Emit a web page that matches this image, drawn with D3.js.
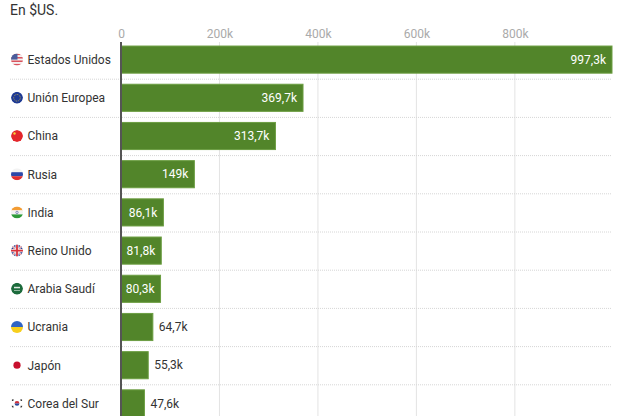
<!DOCTYPE html>
<html>
<head>
<meta charset="utf-8">
<script src="https://cdn.jsdelivr.net/npm/d3@7"></script>
<style>
  body { margin: 0; background: #fff; }
  svg { display: block; font-family: Roboto, "Noto Sans", sans-serif; }
</style>
</head>
<body>
<div id="chart"></div>
<script>
// Data
const countries = ["Estados Unidos", "Unión Europea", "China", "Rusia", "India",
  "Reino Unido", "Arabia Saudí", "Ucrania", "Japón", "Corea del Sur"];
const codes = ["us", "eu", "cn", "ru", "in", "gb", "sa", "ua", "jp", "kr"];
const values = [997.3, 369.7, 313.7, 149, 86.1, 81.8, 80.3, 64.7, 55.3, 47.6];
const tickValues = [0, 200, 400, 600, 800];

const width = 624, height = 416;
const margin = { left: 121, right: 12, top: 40.5 };

const svg = d3.select("#chart").append("svg")
  .attr("width", width)
  .attr("height", height);

const fmt = v => {
  const s = (Math.round(v * 10) / 10).toString().replace(".", ",");
  return s + "k";
};

const x = d3.scaleLinear()
  .domain([0, d3.max(values)])
  .range([margin.left, width - margin.right]);

const y = d3.scaleBand()
  .domain(countries)
  .range([margin.top, margin.top + countries.length * 38.2])
  .paddingInner(0.29)
  .paddingOuter(0.145);

// Subtitle
svg.append("text")
  .attr("x", 10).attr("y", 15)
  .style("font-size", "14px")
  .style("fill", "#333")
  .text("En $US.");

// Grid lines
svg.append("g")
  .selectAll("line")
  .data(tickValues.filter(d => d > 0))
  .join("line")
  .attr("x1", d => x(d)).attr("x2", d => x(d))
  .attr("y1", 42).attr("y2", height)
  .attr("stroke", "#e3e3e3")
  .attr("stroke-width", 1);

// Tick labels
const axis = d3.axisTop(x)
  .tickValues(tickValues)
  .tickSize(0)
  .tickPadding(0)
  .tickFormat(d => d === 0 ? "0" : d + "k");

svg.append("g")
  .attr("transform", "translate(0,38)")
  .call(axis)
  .call(g => g.select(".domain").remove())
  .call(g => g.selectAll("text")
    .attr("dy", 0)
    .style("font-size", "12px")
    .style("font-family", "Roboto, sans-serif")
    .style("fill", "#aaa"));

// Row separators (dotted)
svg.append("g")
  .selectAll("line")
  .data(countries)
  .join("line")
  .attr("x1", 10).attr("x2", width - margin.right)
  .attr("y1", d => y(d) + y.bandwidth() + y.step() * 0.145 + 0.5)
  .attr("y2", d => y(d) + y.bandwidth() + y.step() * 0.145 + 0.5)
  .attr("stroke", "#d6d6d6")
  .attr("stroke-width", 1)
  .attr("stroke-dasharray", "1,1");

// Bars
svg.append("g")
  .selectAll("rect")
  .data(values)
  .join("rect")
  .attr("x", x(0))
  .attr("y", (d, i) => y(countries[i]))
  .attr("width", d => x(d) - x(0))
  .attr("height", y.bandwidth())
  .attr("fill", "#52852a")
  .attr("stroke", "#6c9e42")
  .attr("stroke-width", 1);

// Zero line
svg.append("line")
  .attr("x1", x(0)).attr("x2", x(0))
  .attr("y1", 42).attr("y2", height)
  .attr("stroke", "#555")
  .attr("stroke-width", 2);

// Value labels
const labels = svg.append("g")
  .selectAll("text")
  .data(values)
  .join("text")
  .attr("y", (d, i) => y(countries[i]) + y.bandwidth() / 2)
  .attr("dy", "0.35em")
  .style("font-size", "12px")
  .text(d => fmt(d));

labels.each(function(d) {
  const tw = this.getComputedTextLength();
  const bw = x(d) - x(0);
  const inside = bw > tw + 6;
  d3.select(this)
    .attr("x", inside ? x(d) - 6 : x(d) + 6)
    .attr("text-anchor", inside ? "end" : "start")
    .style("fill", inside ? "#fff" : "#333");
});

// Category labels
svg.append("g")
  .selectAll("text")
  .data(countries)
  .join("text")
  .attr("x", 27.5)
  .attr("y", d => y(d) + y.bandwidth() / 2)
  .attr("dy", "0.37em")
  .style("font-size", "12px")
  .style("fill", "#333")
  .text(d => d);

// Flags (small round icons)
const r = 6;
const defs = svg.append("defs");
defs.append("clipPath").attr("id", "flagclip")
  .append("circle").attr("cx", 0).attr("cy", 0).attr("r", r);

const drawFlag = {
  us: g => {
    for (let i = 0; i < 7; i++) {
      g.append("rect").attr("x", -r).attr("y", -r + i * 12 / 7).attr("width", 12).attr("height", 12 / 7)
        .attr("fill", i % 2 === 0 ? "#d9535d" : "#f3f3f3");
    }
    g.append("rect").attr("x", -r).attr("y", -r).attr("width", 6.5).attr("height", 6).attr("fill", "#4a5d9c");
  },
  eu: g => {
    g.append("circle").attr("r", r).attr("fill", "#1e3a94");
    g.append("circle").attr("r", 3.3).attr("fill", "none").attr("stroke", "#e2c43a").attr("stroke-width", 0.8).attr("stroke-dasharray", "0.8,0.9");
  },
  cn: g => {
    g.append("circle").attr("r", r).attr("fill", "#e3262b");
    g.append("circle").attr("cx", -2.5).attr("cy", -2.5).attr("r", 1.2).attr("fill", "#f7d23a");
  },
  ru: g => {
    ["#f3f3f3", "#2c48a8", "#e0302f"].forEach((c, i) =>
      g.append("rect").attr("x", -r).attr("y", -r + i * 4).attr("width", 12).attr("height", 4).attr("fill", c));
  },
  in: g => {
    ["#f39c33", "#f3f3f3", "#2e9a3a"].forEach((c, i) =>
      g.append("rect").attr("x", -r).attr("y", -r + i * 4).attr("width", 12).attr("height", 4).attr("fill", c));
    g.append("circle").attr("r", 1.2).attr("fill", "none").attr("stroke", "#2a3b8f").attr("stroke-width", 0.5);
  },
  gb: g => {
    g.append("circle").attr("r", r).attr("fill", "#2d3f8f");
    g.append("path").attr("d", "M-6,-6L6,6M6,-6L-6,6").attr("stroke", "#f3f3f3").attr("stroke-width", 2);
    g.append("path").attr("d", "M-6,-6L6,6M6,-6L-6,6").attr("stroke", "#d9303a").attr("stroke-width", 0.7);
    g.append("path").attr("d", "M0,-6V6M-6,0H6").attr("stroke", "#f3f3f3").attr("stroke-width", 3.2);
    g.append("path").attr("d", "M0,-6V6M-6,0H6").attr("stroke", "#d9303a").attr("stroke-width", 1.8);
  },
  sa: g => {
    g.append("circle").attr("r", r).attr("fill", "#1c6b3c");
    g.append("rect").attr("x", -3).attr("y", -2).attr("width", 6).attr("height", 1.5).attr("fill", "#dfe9e2");
    g.append("rect").attr("x", -3).attr("y", 1.2).attr("width", 6).attr("height", 0.6).attr("fill", "#dfe9e2");
  },
  ua: g => {
    g.append("rect").attr("x", -r).attr("y", -r).attr("width", 12).attr("height", 6).attr("fill", "#2f64c4");
    g.append("rect").attr("x", -r).attr("y", 0).attr("width", 12).attr("height", 6).attr("fill", "#f7cf1d");
  },
  jp: g => {
    g.append("circle").attr("r", r).attr("fill", "#fff");
    g.append("circle").attr("r", 3.6).attr("fill", "#c8102e");
  },
  kr: g => {
    g.append("circle").attr("r", r).attr("fill", "#fff");
    g.append("path").attr("d", "M-2.4,0A2.4,2.4 0 0 1 2.4,0Z").attr("fill", "#d0303a");
    g.append("path").attr("d", "M-2.4,0A2.4,2.4 0 0 0 2.4,0Z").attr("fill", "#2a4a9c");
    [[-4.6, -3.4], [4.6, -3.4], [-4.6, 3.4], [4.6, 3.4]].forEach(([cx, cy]) =>
      g.append("rect").attr("x", cx - 1).attr("y", cy - 1).attr("width", 2).attr("height", 2).attr("fill", "#333"));
  }
};

countries.forEach((c, i) => {
  const g = svg.append("g")
    .attr("transform", `translate(17,${y(c) + y.bandwidth() / 2})`);
  const inner = g.append("g").attr("clip-path", "url(#flagclip)");
  drawFlag[codes[i]](inner);
});
</script>
</body>
</html>
